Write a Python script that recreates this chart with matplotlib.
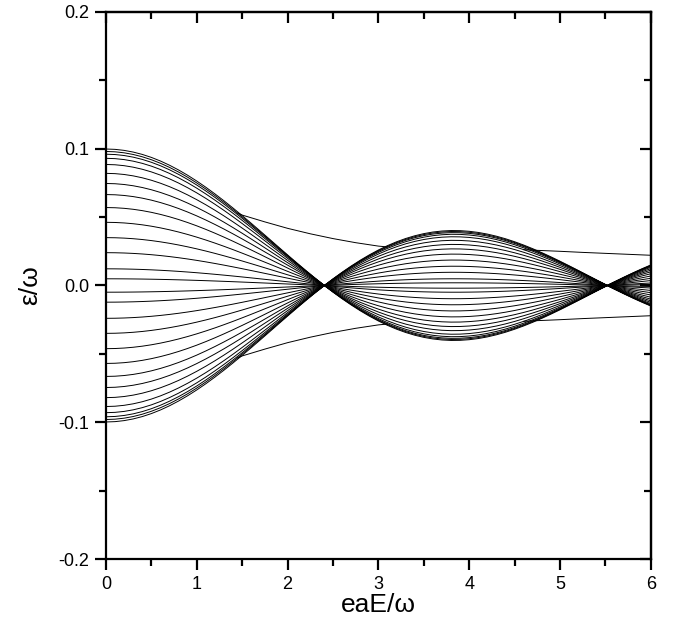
import numpy as np
import matplotlib
matplotlib.use("Agg")
import matplotlib.pyplot as plt
from matplotlib.ticker import FixedLocator

# x grid (eaE/omega) at which the band scale factor was read
x_grid = [0.0, 0.1, 0.2, 0.3, 0.4, 0.5, 0.6, 0.7, 0.8, 0.9, 1.0,
          1.1, 1.2, 1.3, 1.4, 1.5, 1.6, 1.7, 1.8, 1.9, 2.0,
          2.1, 2.2, 2.3, 2.4, 2.5, 2.6, 2.7, 2.8, 2.9, 3.0,
          3.1, 3.2, 3.3, 3.4, 3.5, 3.6, 3.7, 3.8, 3.9, 4.0,
          4.1, 4.2, 4.3, 4.4, 4.5, 4.6, 4.7, 4.8, 4.9, 5.0,
          5.1, 5.2, 5.3, 5.4, 5.5, 5.6, 5.7, 5.8, 5.9, 6.0]
# relative band width (band lines scale by this factor, sign flips past zero)
band_scale = [1.0, 0.9975, 0.9900, 0.9776, 0.9604, 0.9385, 0.9120, 0.8812, 0.8463, 0.8075, 0.7652,
              0.7196, 0.6711, 0.6201, 0.5669, 0.5118, 0.4554, 0.3980, 0.3400, 0.2818, 0.2239,
              0.1666, 0.1104, 0.0555, 0.0025, -0.0484, -0.0968, -0.1424, -0.1850, -0.2243, -0.2601,
              -0.2921, -0.3202, -0.3443, -0.3643, -0.3801, -0.3918, -0.3992, -0.4026, -0.4018, -0.3971,
              -0.3887, -0.3766, -0.3610, -0.3423, -0.3205, -0.2961, -0.2693, -0.2404, -0.2097, -0.1776,
              -0.1443, -0.1103, -0.0758, -0.0412, -0.0068, 0.0270, 0.0599, 0.0917, 0.1220, 0.1506]
# band levels read at eaE/omega = 0
band_levels = [0.0998, 0.0980, 0.0960, 0.0930, 0.0885, 0.0820, 0.0746, 0.0665,
               0.0570, 0.0462, 0.0350, 0.0240, 0.0122, 0.0049,
               -0.0049, -0.0122, -0.0240, -0.0350, -0.0462, -0.0570, -0.0665,
               -0.0746, -0.0820, -0.0885, -0.0930, -0.0960, -0.0980, -0.0998]

# edge (surface) states, parts outside the bands
edge1_x = [1.45, 1.5, 1.75, 2.0, 2.25, 2.5, 2.75, 3.0, 3.1]
edge1_up = [0.0530, 0.0515, 0.0465, 0.0418, 0.0378, 0.0343, 0.0313, 0.0288, 0.0282]
edge2_x = [4.6, 4.75, 5.0, 5.25, 5.5, 5.75, 6.0]
edge2_up = [0.0262, 0.0257, 0.0250, 0.0242, 0.0235, 0.0228, 0.0221]

x_ticks = [0, 1, 2, 3, 4, 5, 6]
x_minor = [0.5, 1.5, 2.5, 3.5, 4.5, 5.5]
y_ticks = [-0.2, -0.1, 0.0, 0.1, 0.2]
y_minor = [-0.15, -0.05, 0.05, 0.15]
x_labels = ['0', '1', '2', '3', '4', '5', '6']
y_labels = ['-0.2', '-0.1', '0.0', '0.1', '0.2']

plt.rcParams['font.family'] = ['Liberation Sans', 'DejaVu Sans']

fig = plt.figure(figsize=(6.78, 6.31), dpi=100)
ax = fig.add_axes([0.1563, 0.1141, 0.8037, 0.8669])

xg = np.array(x_grid)
sc = np.array(band_scale)
for lv in band_levels:
    ax.plot(xg, lv * sc, color='black', lw=0.7)

for ex, ey in ((edge1_x, edge1_up), (edge2_x, edge2_up)):
    ey = np.array(ey)
    ax.plot(ex, ey, color='black', lw=0.7)
    ax.plot(ex, -ey, color='black', lw=0.7)

ax.set_xlim(0, 6)
ax.set_ylim(-0.2, 0.2)
ax.xaxis.set_major_locator(FixedLocator(x_ticks))
ax.xaxis.set_minor_locator(FixedLocator(x_minor))
ax.yaxis.set_major_locator(FixedLocator(y_ticks))
ax.yaxis.set_minor_locator(FixedLocator(y_minor))
ax.set_xticklabels(x_labels)
ax.set_yticklabels(y_labels)

for sp in ax.spines.values():
    sp.set_linewidth(1.6)

ax.tick_params(which='both', direction='out', width=1.6, labelsize=13, pad=4)
ax.tick_params(which='major', length=8)
ax.tick_params(which='minor', length=5)

# inward ticks on top and right
axt = ax.secondary_xaxis('top')
axt.xaxis.set_major_locator(FixedLocator(x_ticks))
axt.xaxis.set_minor_locator(FixedLocator(x_minor))
axt.tick_params(which='both', direction='in', width=1.6, labeltop=False)
axt.tick_params(which='major', length=8)
axt.tick_params(which='minor', length=5)
axr = ax.secondary_yaxis('right')
axr.yaxis.set_major_locator(FixedLocator(y_ticks))
axr.yaxis.set_minor_locator(FixedLocator(y_minor))
axr.tick_params(which='both', direction='in', width=1.6, labelright=False)
axr.tick_params(which='major', length=8)
axr.tick_params(which='minor', length=5)
axt.spines['top'].set_linewidth(1.6)
axr.spines['right'].set_linewidth(1.6)

ax.set_xlabel('eaE/ω', fontsize=19, labelpad=0)
ax.set_ylabel('ε/ω', fontsize=19, labelpad=12)

fig.savefig('out.png', dpi=100)
